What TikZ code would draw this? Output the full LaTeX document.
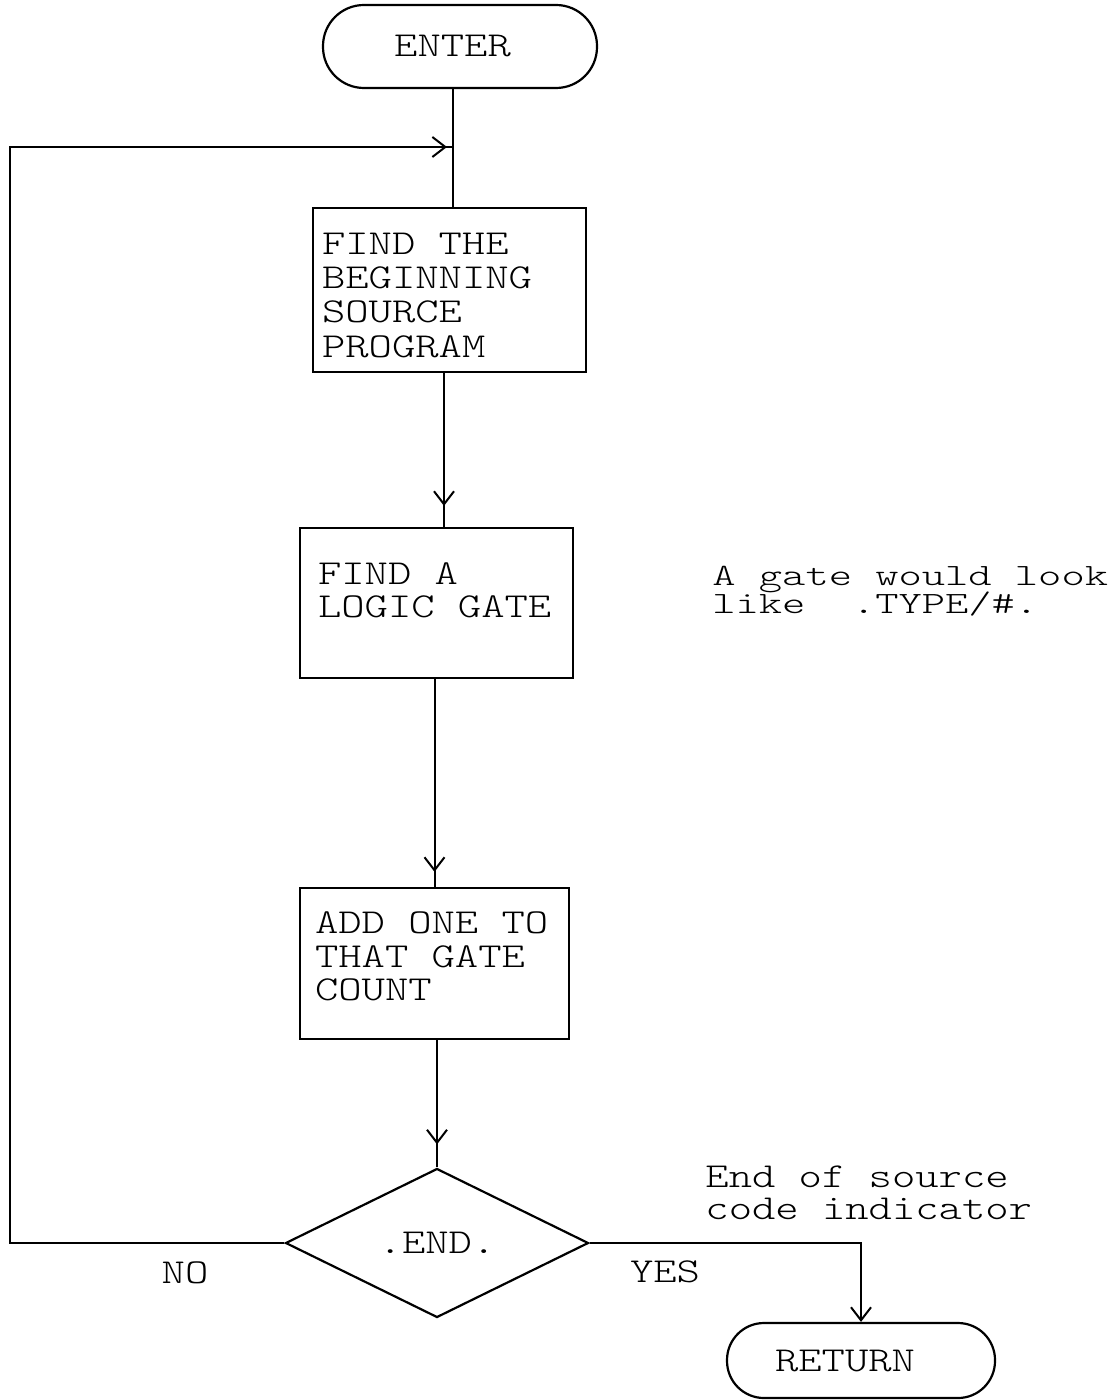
\documentclass[tikz,border=0pt]{standalone}
\usepackage{fontspec}
% light typewriter face, widened to a Courier-like pitch
\newfontfamily\typewriter{lmmonolt10-regular}[Extension=.otf, FakeStretch=1.27]
% same pitch, smaller body for the tightly spaced note
\newfontfamily\typewritersmall{lmmonolt10-regular}[Extension=.otf, FakeStretch=1.43]
\usetikzlibrary{arrows.meta, shapes.geometric, decorations.markings}

\tikzset{
  tw/.style={font={\typewriter\fontsize{17.5pt}{#1}\selectfont\lineskiplimit=-50pt\relax}},
  tw/.default=17pt,
  twsmall/.style={font={\typewritersmall\fontsize{15.5pt}{#1}\selectfont\lineskiplimit=-50pt\relax}},
  terminal/.style={draw, rectangle, inner sep=0pt, line width=1.1pt, tw},
  procbox/.style={draw, rectangle, align=flush left, inner ysep=0pt, line width=1.1pt},
  decision/.style={draw, diamond, aspect=2, minimum width=151.5pt, minimum height=74.5pt,
    inner sep=0pt, line width=1.1pt, tw},
  note/.style={align=left, inner sep=0pt, anchor=north west},
  flow/.style={line width=1pt},
  barb/.style={-{Straight Barb[length=6.5pt, width=10pt, line width=1pt]}},
  head/.style={postaction={decorate}, decoration={markings,
    mark=at position -#1 with {\arrow{Straight Barb[length=6.5pt, width=10pt, line width=1pt]}}}}
}

\begin{document}
\begin{tikzpicture}[x=0.5pt, y=-0.5pt]
  \useasboundingbox (0,0) rectangle (1119,1400);

  % terminals, process boxes and the test
  \node[terminal, minimum width=137pt, minimum height=41.5pt, rounded corners=20.5pt]
    (enter) at (460,46.5) {ENTER\hspace*{7.5pt}};
  \node[procbox, tw=17.2pt, text width=127.5pt, inner xsep=4.5pt, minimum height=82pt,
    text depth=46.6pt]
    (find) at (449.5,290) {FIND THE\\BEGINNING\\SOURCE\\PROGRAM};
  \node[procbox, tw=16.5pt, text width=118.5pt, inner xsep=9pt, minimum height=75pt,
    text depth=29pt]
    (gate) at (436.5,603) {FIND A\\LOGIC GATE};
  \node[procbox, tw=16.75pt, text width=119.5pt, inner xsep=7.5pt, minimum height=75.5pt,
    text depth=40.5pt]
    (count) at (434.5,963.5) {ADD ONE TO\\THAT GATE\\COUNT};
  \node[decision] (end) at (437,1243) {.END.};
  \node[terminal, minimum width=134pt, minimum height=37.5pt, rounded corners=18.5pt]
    (ret) at (861,1360.5) {RETURN\hspace*{16pt}};

  % side notes and branch labels
  \node[note, twsmall=14pt] (gatenote) at (712,566) {A gate would look\\like\ \ .TYPE/\#.};
  \node[note, tw=16pt] (endnote) at (705,1165) {End of source\\code indicator};
  \node[tw] (no) at (185,1273) {NO};
  \node[tw] (yes) at (665,1272) {YES};

  % connectors
  \coordinate (xa) at (453,0);
  \coordinate (xb) at (444,0);
  \coordinate (lt) at (10,147);
  \draw[flow] (enter.south -| xa) -- (find.north -| xa);
  \draw[flow, head=10.5pt] (find.south -| xb) -- (gate.north -| xb);
  \draw[flow, head=7.5pt] (gate.south -| count.north) -- (count.north);
  \draw[flow, head=11.5pt] (count.south -| end.north) -- (end.north);
  \draw[flow, barb] (end.east) -| (ret.north);
  \draw[flow, head=3pt] (end.west) -| (lt) -- (lt -| xa);
\end{tikzpicture}
\end{document}
